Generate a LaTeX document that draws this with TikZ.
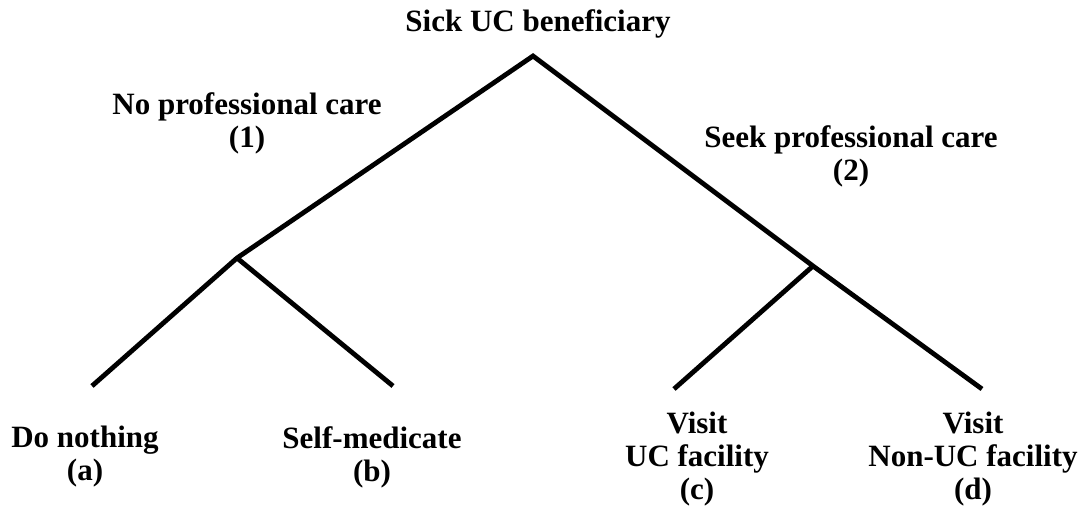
\documentclass[tikz,border=0pt]{standalone}
\usepackage{fontspec}
\setmainfont{Liberation Serif}
\begin{document}
\begin{tikzpicture}[x=1pt,y=-1pt,
  branch/.style={line width=4.8pt,line cap=butt,line join=miter},
  label/.style={font=\fontsize{31}{33}\selectfont\bfseries,align=center,inner sep=0pt}]
\useasboundingbox (0,0) rectangle (1078,522);
% tree vertices
\coordinate (root) at (533,56);
\coordinate (noc) at (237,258);
\coordinate (seek) at (813,266);
\coordinate (a) at (92,386);
\coordinate (b) at (393,386);
\coordinate (c) at (674,389);
\coordinate (d) at (982,389);
% branches
\draw[branch] (a) -- (noc) -- (root) -- (seek) -- (d);
\draw[branch] (noc) -- (b);
\draw[branch] (seek) -- (c);
% labels
\node[label,anchor=base] (top) at (538,31) {Sick UC beneficiary};
\node[label] (l1) at (247,123) {No professional care\\(1)};
\node[label] (l2) at (851,156) {Seek professional care\\(2)};
\node[label] (la) at (85,457) {Do nothing\\(a)};
\node[label] (lb) at (372,457) {Self-medicate\\(b)};
\node[label] (lc) at (697,459) {Visit\\UC facility\\(c)};
\node[label] (ld) at (973,459) {Visit\\Non-UC facility\\(d)};
\end{tikzpicture}
\end{document}
